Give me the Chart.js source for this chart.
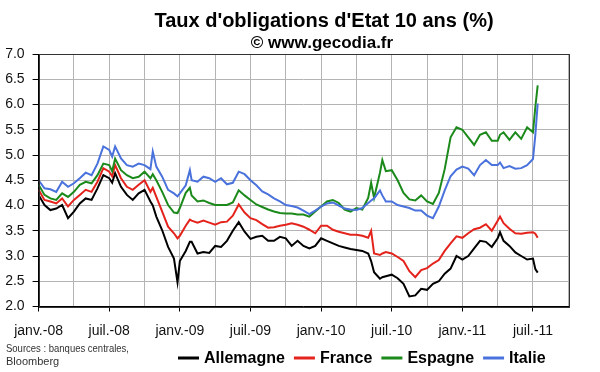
<!DOCTYPE html>
<html lang="fr">
<head>
<meta charset="utf-8">
<title>Taux d'obligations d'Etat 10 ans</title>
<script src="https://cdn.jsdelivr.net/npm/chart.js@4.4.0/dist/chart.umd.min.js"></script>
<style>
  html, body { margin: 0; padding: 0; background: #fff; }
  #chart { display: block; }
</style>
</head>
<body>
<canvas id="chart" width="600" height="372"></canvas>
<script>
/* ============================================================
   Taux d'obligations d'Etat 10 ans (%) - janv. 2008 to juil. 2011
   x = months since 1 Jan 2008 (roughly half-monthly readings)
   ============================================================ */

const months = [
  0, 0.5, 1, 1.5, 2, 2.5, 3, 3.5, 4, 4.5, 5, 5.5, 6, 6.25,
  6.5, 7, 7.5, 8, 8.5, 9, 9.5, 9.7, 10, 10.5, 11, 11.5, 11.8, 12, 12.5, 12.85,
  13, 13.5, 14, 14.5, 15, 15.5, 16, 16.5, 17, 17.5, 18, 18.5, 19, 19.5, 20, 20.5,
  21, 21.5, 22, 22.5, 23, 23.5, 24, 24.5, 25, 25.5, 26, 26.5, 27, 27.5, 28, 28.25,
  28.5, 29, 29.2, 29.5, 30, 30.5, 31, 31.5, 32, 32.5, 33, 33.5, 34, 34.5, 35, 35.5,
  36, 36.5, 37, 37.5, 38, 38.5, 39, 39.2, 39.5, 40, 40.5, 41, 41.5, 42, 42.2, 42.4
];

const allemagne = [
  4.21, 4.01, 3.91, 3.94, 4.01, 3.75, 3.88, 4.04, 4.14, 4.11, 4.34, 4.60, 4.54, 4.45,
  4.64, 4.37, 4.21, 4.11, 4.24, 4.31, 4.08, 4.00, 3.78, 3.51, 3.18, 2.95, 2.48, 2.90, 3.10, 3.28,
  3.28, 3.05, 3.08, 3.06, 3.20, 3.18, 3.30, 3.50, 3.67, 3.48, 3.34, 3.38, 3.40, 3.30, 3.30, 3.38,
  3.35, 3.20, 3.30, 3.20, 3.15, 3.20, 3.35, 3.30, 3.25, 3.20, 3.17, 3.14, 3.12, 3.10, 3.05, 2.90,
  2.68, 2.55, 2.58, 2.60, 2.63, 2.56, 2.45, 2.20, 2.22, 2.35, 2.33, 2.45, 2.50, 2.65, 2.75, 3.00,
  2.93, 3.00, 3.15, 3.30, 3.28, 3.18, 3.35, 3.47, 3.30, 3.20, 3.07, 3.00, 2.93, 2.95, 2.74, 2.67
];

const france = [
  4.31, 4.11, 4.08, 4.04, 4.14, 3.98, 4.11, 4.21, 4.31, 4.27, 4.47, 4.74, 4.67, 4.58,
  4.80, 4.54, 4.37, 4.31, 4.41, 4.50, 4.27, 4.35, 4.17, 3.88, 3.58, 3.45, 3.35, 3.40, 3.60, 3.72,
  3.70, 3.66, 3.70, 3.66, 3.62, 3.67, 3.68, 3.80, 4.02, 3.86, 3.75, 3.71, 3.63, 3.56, 3.57, 3.60,
  3.62, 3.65, 3.62, 3.58, 3.52, 3.45, 3.60, 3.60, 3.52, 3.48, 3.45, 3.42, 3.42, 3.40, 3.36, 3.50,
  3.05, 3.02, 3.05, 3.08, 3.05, 2.98, 2.90, 2.70, 2.58, 2.72, 2.76, 2.85, 2.92, 3.10, 3.25, 3.39,
  3.36, 3.45, 3.53, 3.56, 3.63, 3.50, 3.70, 3.78, 3.65, 3.54, 3.45, 3.44, 3.46, 3.47, 3.44, 3.36
];

const espagne = [
  4.41, 4.21, 4.14, 4.11, 4.24, 4.17, 4.27, 4.41, 4.47, 4.44, 4.60, 4.83, 4.80, 4.68,
  4.93, 4.70, 4.60, 4.54, 4.57, 4.67, 4.54, 4.62, 4.50, 4.27, 4.01, 3.86, 3.85, 3.95, 4.25, 4.35,
  4.20, 4.08, 4.10, 4.05, 4.01, 4.01, 4.01, 4.06, 4.30, 4.20, 4.11, 4.02, 3.97, 3.92, 3.88, 3.85,
  3.84, 3.84, 3.82, 3.82, 3.78, 3.88, 3.98, 4.08, 4.11, 4.05, 3.92, 3.88, 3.95, 3.92, 4.15, 4.45,
  4.15, 4.65, 4.90, 4.68, 4.70, 4.50, 4.25, 4.12, 4.10, 4.20, 4.08, 4.03, 4.25, 4.72, 5.35, 5.55,
  5.50, 5.35, 5.20, 5.40, 5.45, 5.28, 5.28, 5.40, 5.45, 5.30, 5.45, 5.32, 5.55, 5.45, 5.95, 6.38
];

const italie = [
  4.50, 4.34, 4.32, 4.27, 4.47, 4.37, 4.44, 4.54, 4.65, 4.60, 4.83, 5.17, 5.10, 4.97,
  5.17, 4.93, 4.80, 4.77, 4.83, 4.80, 4.72, 5.07, 4.77, 4.57, 4.31, 4.24, 4.18, 4.24, 4.40, 4.70,
  4.50, 4.47, 4.57, 4.54, 4.47, 4.54, 4.42, 4.45, 4.67, 4.62, 4.50, 4.40, 4.28, 4.22, 4.14, 4.08,
  4.01, 3.99, 3.96, 3.90, 3.83, 3.90, 3.98, 4.04, 4.06, 4.00, 3.94, 3.92, 3.91, 3.95, 4.05, 4.10,
  4.14, 4.30, 4.20, 4.08, 4.08, 4.01, 3.98, 3.95, 3.90, 3.90, 3.80, 3.75, 3.98, 4.30, 4.58, 4.71,
  4.77, 4.73, 4.60, 4.80, 4.90, 4.80, 4.80, 4.85, 4.74, 4.78, 4.73, 4.74, 4.80, 4.92, 5.40, 6.02
];

const seriesNames = ['Allemagne', 'France', 'Espagne', 'Italie'];
const seriesColors = ['#000000', '#e3231c', '#1b8a1b', '#4a72dc'];
const xTickLabels = ['janv.-08', 'juil.-08', 'janv.-09', 'juil.-09', 'janv.-10', 'juil.-10', 'janv.-11', 'juil.-11'];

const FONT = '"Liberation Sans", Arial, sans-serif';

function toPoints(values) {
  return months.map((m, i) => ({ x: m, y: values[i] }));
}

// titles, plot frame, sources note and legend are painted around the chart area
const decorations = {
  id: 'decorations',
  afterDraw(chart) {
    const ctx = chart.ctx;
    const a = chart.chartArea;
    ctx.save();

    ctx.strokeStyle = '#333';
    ctx.lineWidth = 1;
    ctx.strokeRect(Math.round(a.left) + 0.5, Math.round(a.top) + 0.5,
      Math.round(a.right - a.left), Math.round(a.bottom - a.top));

    ctx.fillStyle = '#000';
    ctx.textAlign = 'center';
    ctx.textBaseline = 'middle';
    ctx.font = 'bold 20px ' + FONT;
    ctx.fillText("Taux d'obligations d'Etat 10 ans (%)", 324, 21);
    ctx.font = 'bold 17px ' + FONT;
    ctx.fillText('\u00a9 www.gecodia.fr', 322, 43);

    ctx.textAlign = 'left';
    ctx.fillStyle = '#333';
    ctx.font = '11px ' + FONT;
    ctx.fillText('Sources : banques centrales,', 6, 349, 123);
    ctx.fillText('Bloomberg', 6, 362);

    // legend
    let x = 178;
    const y = 358;
    ctx.font = 'bold 16px ' + FONT;
    ctx.fillStyle = '#000';
    seriesNames.forEach((name, i) => {
      ctx.strokeStyle = seriesColors[i];
      ctx.lineWidth = 3;
      ctx.beginPath();
      ctx.moveTo(x, y);
      ctx.lineTo(x + 21, y);
      ctx.stroke();
      x += 26;
      ctx.fillText(name, x, y + 1);
      x += ctx.measureText(name).width + 9;
    });

    ctx.restore();
  }
};

const datasets = [allemagne, france, espagne, italie].map((vals, i) => ({
  label: seriesNames[i],
  data: toPoints(vals),
  borderColor: seriesColors[i],
  backgroundColor: seriesColors[i],
  borderWidth: 2,
  pointRadius: 0,
  tension: 0,
  order: 3 - i
}));

new Chart(document.getElementById('chart'), {
  type: 'line',
  data: { datasets },
  options: {
    responsive: false,
    animation: false,
    devicePixelRatio: 1,
    layout: { padding: { left: 0, right: 31.7, top: 54, bottom: 0 } },
    plugins: { legend: { display: false }, tooltip: { enabled: false }, title: { display: false } },
    scales: {
      x: {
        type: 'linear',
        min: 0,
        max: 45,
        afterFit(s) { s.height = 65.5; },
        grid: {
          color: '#b4b4b4',
          borderDash: [2, 2],
          tickLength: 5,
          tickBorderDash: [],
          tickColor: c => (c.tick && c.tick.value % 6 === 0) ? '#000' : 'rgba(0,0,0,0)'
        },
        border: { display: true, color: '#000', width: 1 },
        ticks: {
          stepSize: 3,
          autoSkip: false,
          maxRotation: 0,
          padding: 11,
          color: '#111',
          font: { family: FONT, size: 14 },
          callback: v => v % 6 === 0 ? (xTickLabels[v / 6] || '') : ''
        }
      },
      y: {
        min: 2,
        max: 7,
        afterFit(s) { s.width = 38.6; },
        grid: {
          color: '#b4b4b4',
          borderDash: [2, 2],
          tickLength: 6,
          tickBorderDash: [],
          tickColor: '#000'
        },
        border: { display: true, color: '#000', width: 1 },
        ticks: {
          stepSize: 0.5,
          padding: 8,
          color: '#111',
          font: { family: FONT, size: 14 },
          callback: v => v.toFixed(1)
        }
      }
    }
  },
  plugins: [decorations]
});
</script>
</body>
</html>
